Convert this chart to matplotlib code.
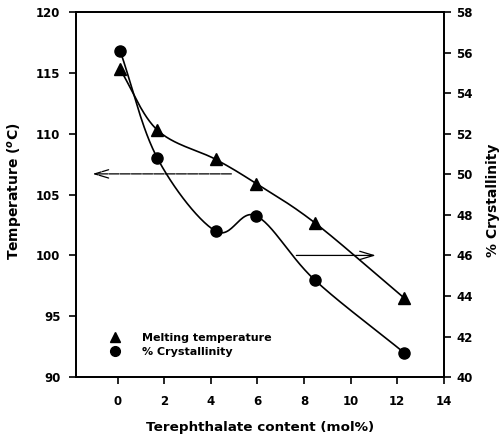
import numpy as np
import matplotlib
matplotlib.use("Agg")
import matplotlib.pyplot as plt
from matplotlib.lines import Line2D

plt.rcParams['font.family'] = ['DejaVu Sans']
plt.rcParams['font.weight'] = 'bold'

# data
tere = [0.1, 1.7, 4.2, 5.95, 8.45, 12.3]
melt_temp = [115.3, 110.3, 107.9, 105.9, 102.7, 96.5]
cryst = [56.1, 50.8, 47.2, 47.95, 44.8, 41.2]

x_ticks = [0, 2, 4, 6, 8, 10, 12, 14]
left_ticks = [90, 95, 100, 105, 110, 115, 120]
right_ticks = [40, 42, 44, 46, 48, 50, 52, 54, 56, 58]


def smooth(x, y, n=30):
    # catmull-rom curve through the points, only for drawing the line
    x = np.asarray(x, float)
    y = np.asarray(y, float)
    px = np.concatenate([[2 * x[0] - x[1]], x, [2 * x[-1] - x[-2]]])
    py = np.concatenate([[2 * y[0] - y[1]], y, [2 * y[-1] - y[-2]]])
    xs, ys = [], []
    t = np.linspace(0, 1, n)
    for i in range(1, len(px) - 2):
        for p, out in ((px, xs), (py, ys)):
            p0, p1, p2, p3 = p[i - 1], p[i], p[i + 1], p[i + 2]
            out.extend(0.5 * (2 * p1 + (-p0 + p2) * t
                              + (2 * p0 - 5 * p1 + 4 * p2 - p3) * t ** 2
                              + (-p0 + 3 * p1 - 3 * p2 + p3) * t ** 3))
    return xs, ys


fig = plt.figure(figsize=(5.02, 4.37), dpi=100)
ax = fig.add_axes([0.151, 0.137, 0.733, 0.8355])
ax2 = ax.twinx()

sx, sy = smooth(tere, melt_temp)
ax.plot(sx, sy, color='black', lw=1.2)
ax.plot(tere, melt_temp, '^', color='black', ms=8)

cx, cy = smooth(tere, cryst)
ax2.plot(cx, cy, color='black', lw=1.2)
ax2.plot(tere, cryst, 'o', color='black', ms=8)

ax.set_xlim(-1.8, 14)
ax.set_ylim(90, 120)
ax2.set_ylim(40, 58)
ax.set_xticks(x_ticks)
ax.set_yticks(left_ticks)
ax2.set_yticks(right_ticks)

ax.tick_params(axis='both', labelsize=8.5, width=1.2, length=5, direction='out')
ax.tick_params(axis='x', pad=8)
ax.tick_params(axis='y', pad=6)
ax2.tick_params(axis='y', labelsize=8.5, width=1.2, length=5, direction='out', pad=4)
for a in (ax, ax2):
    for s in a.spines.values():
        s.set_linewidth(1.3)

ax.set_xlabel('Terephthalate content (mol%)', fontsize=9.7, fontweight='bold', labelpad=9)
ax.set_ylabel('Temperature ($^o$C)', fontsize=10, fontweight='bold')
ax.yaxis.set_label_coords(-0.138, 0.51)
ax2.set_ylabel('% Crystallinity', fontsize=10, fontweight='bold')
ax2.yaxis.set_label_coords(1.115, 0.485)

# arrows pointing to the axes
ax.annotate('', xy=(-1.2, 106.7), xytext=(5.0, 106.7),
            arrowprops=dict(arrowstyle='->,head_length=1.0,head_width=0.3',
                            color='black', lw=0.9, linestyle=(0, (8, 1))))
ax2.annotate('', xy=(11.2, 46.0), xytext=(7.55, 46.0),
             arrowprops=dict(arrowstyle='->,head_length=1.0,head_width=0.3',
                             color='black', lw=0.9))

handles = [Line2D([], [], marker='^', ls='none', color='black', ms=7),
           Line2D([], [], marker='o', ls='none', color='black', ms=7)]
ax2.legend(handles, ['Melting temperature', '% Crystallinity'],
           loc='lower left', bbox_to_anchor=(0.064, 0.027), frameon=False,
           prop={'size': 8, 'weight': 'bold'}, handletextpad=1.9,
           labelspacing=0.35, handlelength=1.0)

fig.savefig('out.png', dpi=100)
